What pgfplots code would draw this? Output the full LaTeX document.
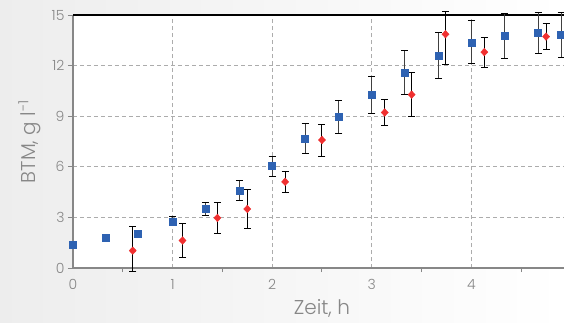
\documentclass[border=0pt]{standalone}
\usepackage{fontspec}
\setmainfont{Poppins}[UprightFont=* Light]
\usepackage{pgfplots}
\pgfplotsset{compat=1.18}
\definecolor{mblue}{RGB}{46,98,178}
\definecolor{mred}{RGB}{240,48,48}
\definecolor{tgray}{RGB}{135,135,135}
\begin{document}
\begin{tikzpicture}
\useasboundingbox (-73pt,-54pt) rectangle (491pt,268pt);
\shade[left color=gray!14, right color=white] (-73pt,-54pt) rectangle (491pt,268pt);
\begin{axis}[at={(0,0)}, anchor=south west, scale only axis,
  width=491pt, height=253pt,
  xmin=0, xmax=4.93, ymin=0, ymax=15,
  clip=false,
  axis background/.style={fill=white},
  axis line style={draw=none},
  xtick={0,1,2,3,4}, minor xtick={0.5,1.5,2.5,3.5,4.5},
  ytick={0,3,6,9,12,15},
  tick pos=left, tick align=outside,
  major tick length=5pt, minor tick length=4pt,
  tick style={tgray, line width=1pt},
  major x tick style={draw=none},
  grid=major,
  major grid style={gray!65, dash pattern=on 4pt off 3pt, line width=0.8pt},
  /pgf/number format/assume math mode=true,
  ticklabel style={font=\fontsize{14}{16}\selectfont, text=tgray},
  xticklabel style={yshift=-3pt},
  xlabel={Zeit, h}, ylabel={BTM, g l\textsuperscript{-1}},
  xlabel style={at={(axis description cs:0.507,0)}, anchor=center, yshift=-40pt, font=\fontsize{20}{24}\selectfont, text=tgray},
  ylabel style={at={(axis description cs:-0.088,0.5)}, anchor=center, font=\fontsize{20}{24}\selectfont, text=tgray},
]
\draw[tgray, line width=1.5pt] (rel axis cs:0,1) -- (rel axis cs:0,0) -- (rel axis cs:1,0);
\draw[black, line width=1.2pt] (rel axis cs:0,1) -- (rel axis cs:1,1);
% blue squares
\addplot[only marks, mark=square*, mark size=3.5pt, mark options={fill=mblue, draw=mblue},
  error bars/.cd, y dir=both, y explicit,
  error bar style={line width=1pt, black!75},
  error mark options={rotate=90, mark size=3.5pt, line width=1pt, black}]
coordinates {
(0,1.40) += (0,0) -= (0,0)
(0.33,1.79) += (0,0.05) -= (0,0.05)
(0.65,2.06) += (0,0) -= (0,0)
(1.0,2.77) += (0,0.27) -= (0,0.24)
(1.33,3.5) += (0,0.4) -= (0,0.4)
(1.67,4.6) += (0,0.57) -= (0,0.57)
(2.0,6.04) += (0,0.55) -= (0,0.6)
(2.33,7.69) += (0,0.9) -= (0,0.9)
(2.67,8.96) += (0,1.0) -= (0,0.98)
(3.0,10.26) += (0,1.1) -= (0,1.1)
(3.33,11.6) += (0,1.3) -= (0,1.3)
(3.67,12.56) += (0,1.38) -= (0,1.33)
(4.0,13.38) += (0,1.27) -= (0,1.27)
(4.33,13.8) += (0,1.3) -= (0,1.36)
(4.67,13.97) += (0,1.2) -= (0,1.25)
(4.9,13.86) += (0,1.3) -= (0,1.36)
};
% red diamonds
\addplot[only marks, mark=diamond*, mark size=3.8pt, mark options={fill=mred, draw=mred, xscale=1.25},
  error bars/.cd, y dir=both, y explicit,
  error bar style={line width=1pt, black},
  error mark options={rotate=90, mark size=3.5pt, line width=1pt, black}]
coordinates {
(0.6,1.03) += (0,1.45) -= (0,1.25)
(1.1,1.63) += (0,1.02) -= (0,1.02)
(1.45,2.97) += (0,0.92) -= (0,0.9)
(1.75,3.5) += (0,1.14) -= (0,1.16)
(2.13,5.11) += (0,0.64) -= (0,0.64)
(2.5,7.59) += (0,0.92) -= (0,0.95)
(3.13,9.22) += (0,0.75) -= (0,0.77)
(3.4,10.28) += (0,1.3) -= (0,1.3)
(3.74,13.86) += (0,1.32) -= (0,1.8)
(4.13,12.8) += (0,0.88) -= (0,0.9)
(4.75,13.72) += (0,0.76) -= (0,0.77)
};
\end{axis}
\end{tikzpicture}
\end{document}
